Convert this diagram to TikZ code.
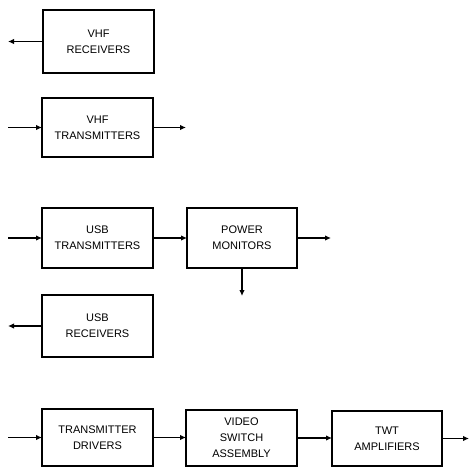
\documentclass[tikz,border=0pt]{standalone}
\usepackage{fontspec}
\setmainfont{Liberation Sans}
\usetikzlibrary{arrows.meta}
\begin{document}
\begin{tikzpicture}[x=1pt,y=-1pt,
  blk/.style={draw,line width=2pt,inner sep=0pt,outer sep=0pt,align=center,
    font=\fontsize{11}{16}\selectfont},
  arr/.style={line width=1.6pt,-{Latex[length=6pt,width=5.5pt]}}]
\useasboundingbox (0,0) rectangle (470,468);
\node[blk,minimum width=111pt,minimum height=63pt] (vhfr) at (98.5,41.5) {VHF\\RECEIVERS};
\node[blk,minimum width=111pt,minimum height=59pt] (vhft) at (97.5,127.5) {VHF\\TRANSMITTERS};
\node[blk,minimum width=111pt,minimum height=60pt] (usbt) at (97.5,238) {USB\\TRANSMITTERS};
\node[blk,minimum width=110pt,minimum height=60pt] (pm) at (242,238) {POWER\\MONITORS};
\node[blk,minimum width=111pt,minimum height=62pt] (usbr) at (97.5,326) {USB\\RECEIVERS};
\node[blk,minimum width=111pt,minimum height=57pt] (td) at (97.5,437.5) {TRANSMITTER\\DRIVERS};
\node[blk,minimum width=111pt,minimum height=56pt] (vs) at (241.5,438) {VIDEO\\SWITCH\\ASSEMBLY};
\node[blk,minimum width=110pt,minimum height=55pt] (twt) at (387,438.5) {TWT\\AMPLIFIERS};
\coordinate (o1) at (8,41.5);
\coordinate (i2) at (8,127.5);
\coordinate (o2) at (186,127.5);
\coordinate (i3) at (8,238);
\coordinate (o3) at (331,238);
\coordinate (d3) at (242,296);
\coordinate (o4) at (8,326);
\coordinate (i5) at (8,437.5);
\coordinate (o5) at (469,438.5);
\draw[arr] (vhfr.west) -- (o1);
\draw[arr] (i2) -- (vhft.west);
\draw[arr] (vhft.east) -- (o2);
\draw[arr] (i3) -- (usbt.west);
\draw[arr] (usbt.east) -- (pm.west);
\draw[arr] (pm.east) -- (o3);
\draw[arr] (pm.south) -- (d3);
\draw[arr] (usbr.west) -- (o4);
\draw[arr] (i5) -- (td.west);
\draw[arr] (td.east) -- (td.east -| vs.west);
\draw[arr] (vs.east) -- (vs.east -| twt.west);
\draw[arr] (twt.east) -- (o5);
\end{tikzpicture}
\end{document}
